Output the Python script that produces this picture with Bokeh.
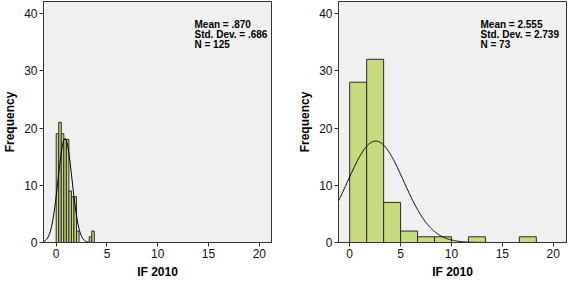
import numpy as np
from bokeh.plotting import figure
from bokeh.layouts import row
from bokeh.models import Range1d, FixedTicker, Label
from bokeh.embed import file_html
from bokeh.resources import INLINE

# ---- data ----
left_bin_start = 0.0
left_bin_width = 0.25
left_counts = [19, 21, 19, 18, 18, 9, 8, 8, 2, 0, 0, 0, 0, 1, 2]
left_mean, left_sd, left_n = 0.870, 0.686, 125
left_stats = ["Mean = .870", "Std. Dev. = .686", "N = 125"]

right_bin_start = 0.0
right_bin_width = 5.0 / 3.0
right_counts = [28, 32, 7, 2, 1, 1, 0, 1, 0, 0, 1]
right_mean, right_sd, right_n = 2.555, 2.739, 73
right_stats = ["Mean = 2.555", "Std. Dev. = 2.739", "N = 73"]

x_ticks = [0, 5, 10, 15, 20]
y_ticks = [0, 10, 20, 30, 40]
x_title = "IF 2010"
y_title = "Frequency"

FONT = "Liberation Sans"
BAR_FILL = "#C6DA80"
BG = "#F0F0F0"


def make_panel(counts, start, width, mean, sd, n, stats, xr, fig_w, bl, br, stat_x):
    p = figure(width=fig_w, height=281, output_backend="svg", toolbar_location=None,
               x_range=Range1d(*xr), y_range=Range1d(0, 42.1),
               min_border_left=bl, min_border_right=br, min_border_top=1, min_border_bottom=38)
    p.background_fill_color = BG
    p.border_fill_color = "white"
    p.outline_line_color = "#333333"
    p.outline_line_width = 1
    p.grid.visible = False

    lefts = [start + i * width for i in range(len(counts))]
    rights = [l + width for l in lefts]
    keep = [i for i, c in enumerate(counts) if c > 0]
    p.quad(left=[lefts[i] for i in keep], right=[rights[i] for i in keep],
           bottom=0, top=[counts[i] for i in keep],
           fill_color=BAR_FILL, line_color="#2b2b2b", line_width=1)

    xs = np.linspace(xr[0], xr[1], 400)
    ys = n * width * np.exp(-0.5 * ((xs - mean) / sd) ** 2) / (sd * np.sqrt(2 * np.pi))
    p.line(xs, ys, line_color="black", line_width=1)

    for k, s in enumerate(stats):
        p.add_layout(Label(x=stat_x, y=218 - 10 * k, x_units="screen", y_units="screen", text=s,
                           text_font=FONT, text_font_size="10px", text_font_style="bold",
                           text_color="black", text_baseline="middle"))

    for ax in (p.xaxis[0], p.yaxis[0]):
        ax.major_label_text_font = FONT
        ax.major_label_text_font_size = "12px"
        ax.major_label_text_color = "#111111"
        ax.axis_label_text_font = FONT
        ax.axis_label_text_font_size = "12px"
        ax.axis_label_text_font_style = "bold"
        ax.axis_label_text_color = "black"
        ax.axis_line_color = "#333333"
        ax.major_tick_line_color = "#333333"
        ax.major_tick_out = 4
        ax.major_tick_in = 0
        ax.minor_tick_line_color = None
    p.xaxis.ticker = FixedTicker(ticks=x_ticks)
    p.yaxis.ticker = FixedTicker(ticks=y_ticks)
    p.xaxis.axis_label = x_title
    p.yaxis.axis_label = y_title
    p.xaxis.major_label_standoff = 2
    p.xaxis.axis_label_standoff = 4
    p.yaxis.major_label_standoff = 2
    p.yaxis.axis_label_standoff = 4
    return p


left = make_panel(left_counts, left_bin_start, left_bin_width, left_mean, left_sd, left_n,
                  left_stats, (-1.25, 21.2), 282, 42, 11, 151)
right = make_panel(right_counts, right_bin_start, right_bin_width, right_mean, right_sd, right_n,
                   right_stats, (-1.1, 21.3), 286, 56, 2, 142)

layout = row(left, right, spacing=0)
open("out.html", "w").write(file_html(layout, INLINE))
